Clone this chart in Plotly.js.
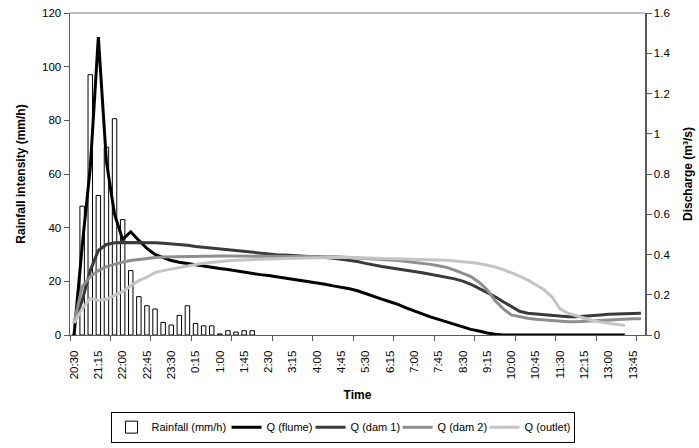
<!DOCTYPE html>
<html>
<head>
<meta charset="utf-8">
<script src="https://cdn.plot.ly/plotly-3.0.1.min.js"></script>
<style>html,body{margin:0;padding:0;background:#fff}#chart{width:699px;height:448px}</style>
</head>
<body>
<div id="chart"></div>
<script>
// 15-minute time categories, 20:30 -> 14:00
const times = ["20:30","20:45","21:00","21:15","21:30","21:45","22:00","22:15","22:30","22:45",
"23:00","23:15","23:30","23:45","0:00","0:15","0:30","0:45","1:00","1:15","1:30","1:45",
"2:00","2:15","2:30","2:45","3:00","3:15","3:30","3:45","4:00","4:15","4:30","4:45",
"5:00","5:15","5:30","5:45","6:00","6:15","6:30","6:45","7:00","7:15","7:30","7:45",
"8:00","8:15","8:30","8:45","9:00","9:15","9:30","9:45","10:00","10:15","10:30","10:45",
"11:00","11:15","11:30","11:45","12:00","12:15","12:30","12:45","13:00","13:15","13:30","13:45","14:00"];

const rainfall = [0,48,97,52,70,80.6,43,24,14.3,10.9,9.7,4.7,3.7,7.3,10.9,4.3,3.4,3.4,0.4,1.6,1.1,1.6,1.6];

const qFlume = [0,0.44,0.83,1.48,0.86,0.60,0.475,0.513,0.47,0.43,0.40,0.383,0.370,0.362,0.355,0.348,
0.342,0.336,0.330,0.325,0.318,0.312,0.306,0.300,0.296,0.290,0.285,0.279,0.272,0.266,0.260,0.252,
0.244,0.238,0.230,0.220,0.205,0.190,0.178,0.165,0.152,0.135,0.118,0.105,0.090,0.077,0.064,0.052,
0.040,0.028,0.020,0.010,0.004,0,0,0,0,0,0,0,0,0,0,0,0,0,0,0,0,null,null];

const qDam1 = [0.06,0.17,0.32,0.42,0.45,0.458,0.46,0.46,0.46,0.46,0.458,0.456,0.453,0.45,0.446,0.44,
0.436,0.432,0.426,0.421,0.417,0.413,0.409,0.405,0.402,0.399,0.397,0.394,0.392,0.390,0.389,0.386,
0.381,0.376,0.372,0.365,0.356,0.347,0.340,0.334,0.329,0.322,0.316,0.309,0.302,0.294,0.287,0.279,
0.268,0.252,0.232,0.212,0.190,0.165,0.142,0.118,0.108,0.104,0.100,0.097,0.093,0.091,0.091,0.093,
0.097,0.100,0.103,0.104,0.105,0.107,0.108];

const qDam2 = [0.06,0.24,0.29,0.32,0.34,0.352,0.362,0.37,0.376,0.381,0.385,0.388,0.389,0.39,0.391,0.392,
0.392,0.392,0.392,0.392,0.392,0.392,0.392,0.392,0.392,0.392,0.392,0.392,0.392,0.391,0.391,0.390,
0.389,0.388,0.386,0.384,0.381,0.379,0.376,0.373,0.370,0.366,0.362,0.357,0.351,0.344,0.336,0.322,
0.305,0.290,0.262,0.225,0.170,0.130,0.100,0.090,0.083,0.078,0.075,0.072,0.068,0.066,0.066,0.068,
0.071,0.074,0.077,0.079,0.080,0.081,0.081];

const qOutlet = [0.06,0.13,0.182,0.172,0.178,0.195,0.215,0.245,0.27,0.287,0.31,0.32,0.328,0.336,0.344,0.35,
0.356,0.361,0.366,0.369,0.372,0.374,0.376,0.377,0.378,0.379,0.380,0.381,0.383,0.384,0.385,0.386,
0.386,0.386,0.385,0.384,0.383,0.382,0.381,0.380,0.379,0.378,0.377,0.376,0.375,0.373,0.371,0.368,
0.365,0.360,0.355,0.346,0.338,0.325,0.310,0.293,0.274,0.252,0.226,0.190,0.130,0.108,0.095,0.083,
0.072,0.064,0.058,0.052,0.047,null,null];

const idx = times.map((t, i) => i);
const labelIdx = idx.filter(i => i % 3 === 0);
const labelText = labelIdx.map(i => times[i]);

const FONT = "Arial, 'Liberation Sans', sans-serif";

const traces = [
  {type:'bar', name:'Rainfall (mm/h)', x: idx.slice(0, rainfall.length), y: rainfall, width:0.55,
   marker:{color:'#ffffff', line:{color:'#000000', width:1}}, yaxis:'y', legendwidth:70},
  {type:'scatter', mode:'lines', name:'Q (flume)', x: idx, y: qFlume, yaxis:'y2',
   line:{color:'#000000', width:3}, legendwidth:39},
  {type:'scatter', mode:'lines', name:'Q (dam 1)', x: idx, y: qDam1, yaxis:'y2',
   line:{color:'#3a3a3a', width:3}, legendwidth:42},
  {type:'scatter', mode:'lines', name:'Q (dam 2)', x: idx, y: qDam2, yaxis:'y2',
   line:{color:'#8e8e8e', width:3}, legendwidth:42},
  {type:'scatter', mode:'lines', name:'Q (outlet)', x: idx, y: qOutlet, yaxis:'y2',
   line:{color:'#c4c4c4', width:3}, legendwidth:44}
];

const layout = {
  width:699, height:448,
  margin:{l:70, r:54, t:13, b:113, autoexpand:false},
  paper_bgcolor:'#ffffff', plot_bgcolor:'#ffffff',
  font:{family:FONT, size:11.5, color:'#000000'},
  showlegend:true,
  bargap:0,
  xaxis:{
    range:[-0.5, times.length - 0.5], tickmode:'array', tickvals:labelIdx, ticktext:labelText,
    tickangle:-90, ticks:'', ticklabelstandoff:10, showgrid:false, zeroline:false, showline:true,
    linecolor:'#5a5a5a', linewidth:1,
    tickfont:{family:FONT, size:11.5},
    minor:{tickmode:'linear', tick0:-0.5, dtick:5, ticks:'outside', ticklen:5, tickcolor:'#5a5a5a', showgrid:false},
    title:{text:'<b>Time</b>', font:{family:FONT, size:12}, standoff:12}
  },
  yaxis:{
    range:[0,120], dtick:20, ticks:'outside', ticklen:5, tickcolor:'#5a5a5a', showgrid:false, zeroline:false,
    showline:true, linecolor:'#5a5a5a', linewidth:1.5,
    title:{text:'<b>Rainfall intensity (mm/h)</b>', font:{family:FONT, size:12}, standoff:14}
  },
  yaxis2:{
    range:[0,1.6], dtick:0.2, overlaying:'y', side:'right', ticks:'outside', ticklen:5, tickcolor:'#5a5a5a',
    showgrid:false, zeroline:false, showline:true, linecolor:'#5a5a5a', linewidth:1.5,
    title:{text:'<b>Discharge (m³/s)</b>', font:{family:FONT, size:12}, standoff:14}
  },
  legend:{
    orientation:'h', x:0.474, xanchor:'center', y:-0.238, yanchor:'top',
    bordercolor:'#000000', borderwidth:1, bgcolor:'#ffffff',
    font:{family:FONT, size:11}, traceorder:'normal', tracegroupgap:0
  },
  shapes:[{type:'line', xref:'paper', yref:'paper', x0:0, x1:1, y0:1, y1:1, line:{color:'#a8a8a8', width:1.5}}]
};

Plotly.newPlot('chart', traces, layout, {displayModeBar:false, staticPlot:true});
</script>
</body>
</html>
